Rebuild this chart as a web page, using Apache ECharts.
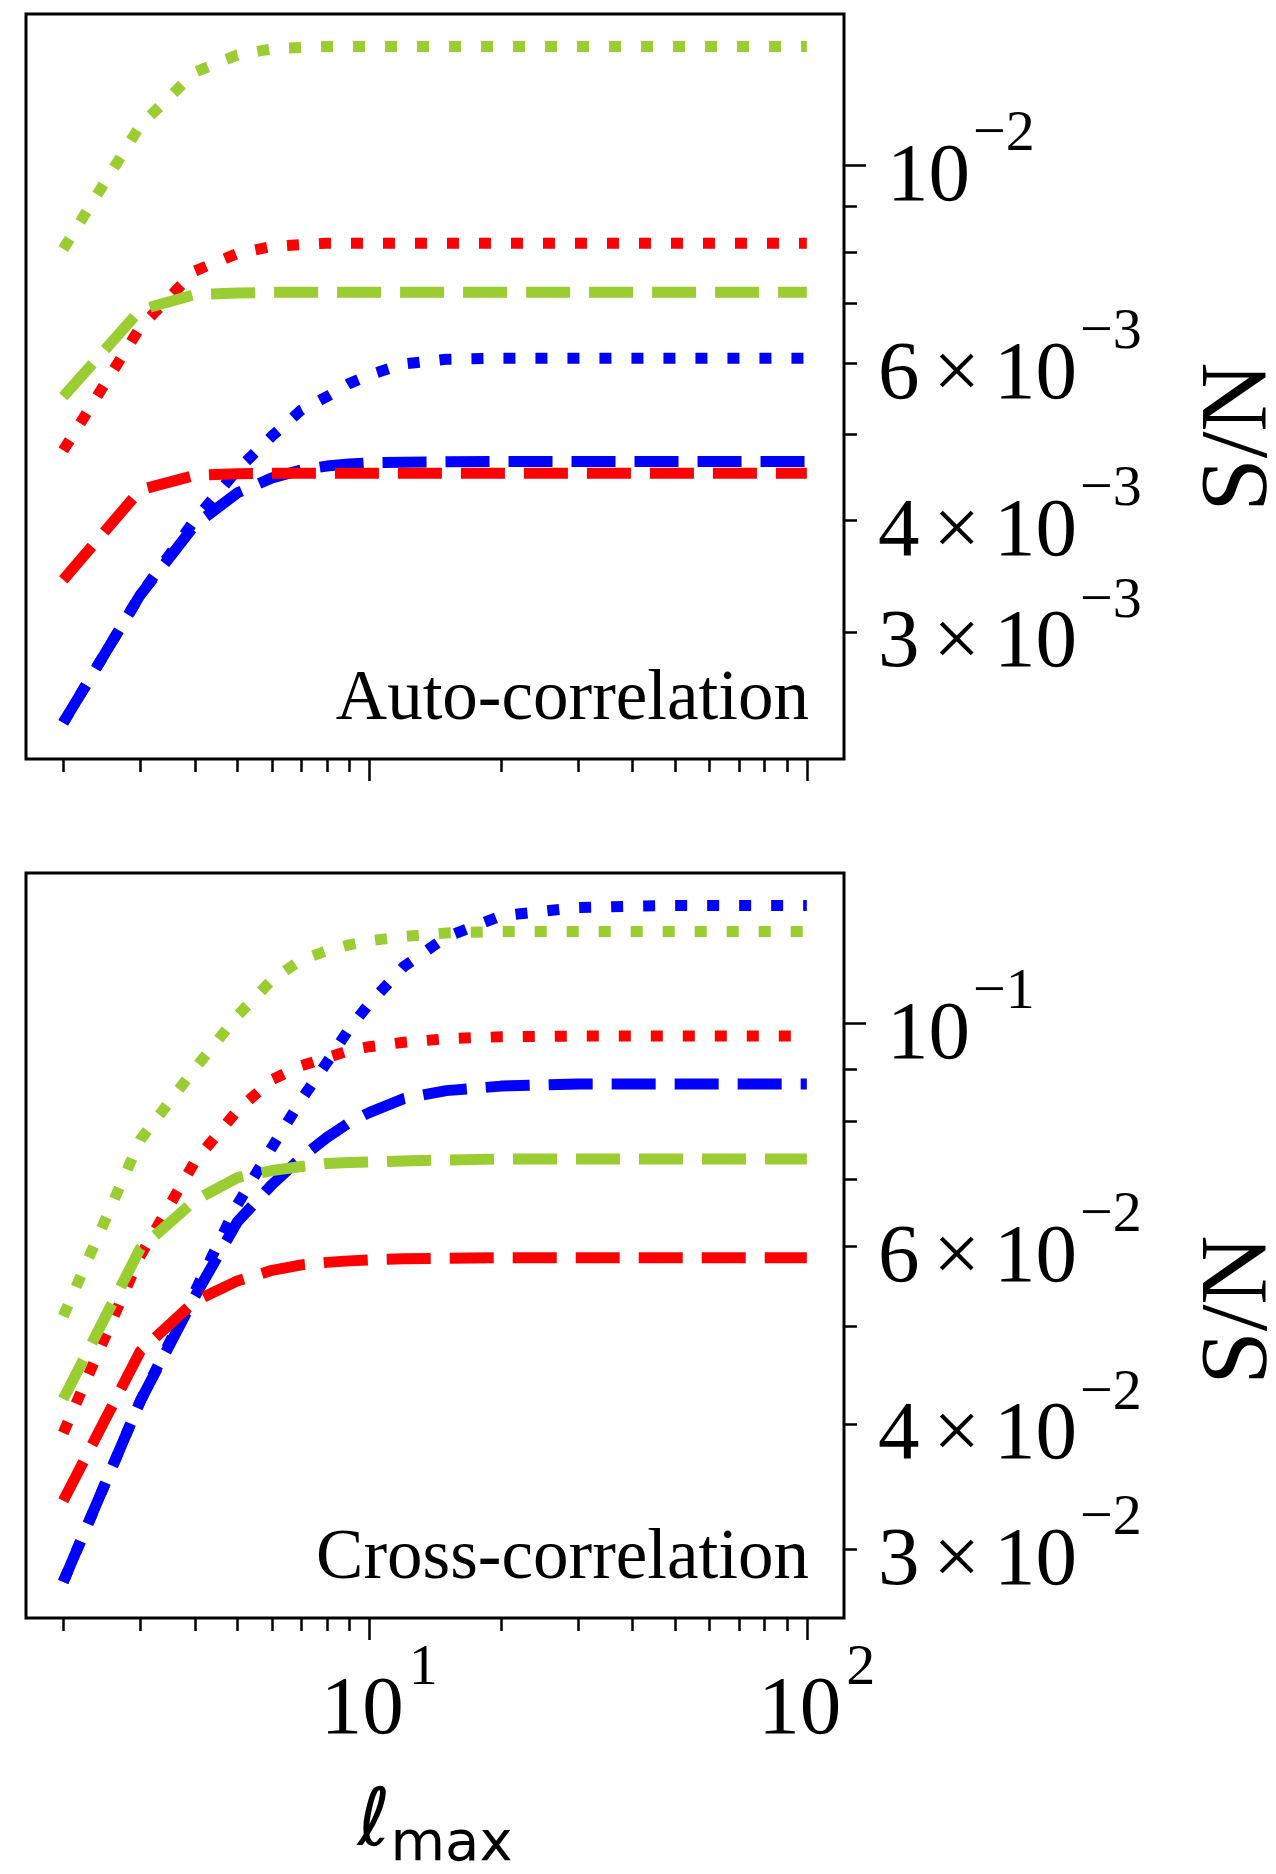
<!DOCTYPE html>
<html>
<head>
<meta charset="utf-8">
<title>S/N vs lmax</title>
<script src="https://cdn.jsdelivr.net/npm/echarts@6/dist/echarts.min.js"></script>
<style>
  html, body { margin: 0; padding: 0; background: #fff; }
  #chart { width: 1276px; height: 1874px; }
</style>
</head>
<body>
<div id="chart"></div>
<script>
// multipole cut, l_max
var ells = [2, 3, 4, 5, 6, 7, 8, 9, 10, 12, 15, 20, 30, 50, 100];

// auto-correlation S/N
var autoBlueDash  = [0.002375, 0.003304, 0.003957, 0.004298, 0.004467, 0.004560, 0.004605, 0.004630, 0.004644, 0.004652, 0.004657, 0.004659, 0.004659, 0.004659, 0.004659];
var autoBlueDot   = [0.002375, 0.003304, 0.004010, 0.004560, 0.004977, 0.005322, 0.005507, 0.005696, 0.005826, 0.005994, 0.006065, 0.006081, 0.006081, 0.006081, 0.006081];
var autoRedDash   = [0.003434, 0.004331, 0.004497, 0.004515, 0.004520, 0.004520, 0.004520, 0.004520, 0.004520, 0.004520, 0.004520, 0.004520, 0.004520, 0.004520, 0.004520];
var autoRedDot    = [0.004795, 0.006589, 0.007618, 0.007970, 0.008114, 0.008155, 0.008182, 0.008182, 0.008182, 0.008182, 0.008182, 0.008182, 0.008182, 0.008182, 0.008182];
var autoGreenDash = [0.005507, 0.006889, 0.007168, 0.007195, 0.007211, 0.007211, 0.007211, 0.007211, 0.007211, 0.007211, 0.007211, 0.007211, 0.007211, 0.007211, 0.007211];
var autoGreenDot  = [0.008061, 0.01109, 0.01272, 0.01330, 0.01351, 0.01356, 0.01359, 0.01359, 0.01359, 0.01359, 0.01359, 0.01359, 0.01359, 0.01359, 0.01359];

// cross-correlation S/N
var crossBlueDash  = [0.02786, 0.04214, 0.05357, 0.06353, 0.06918, 0.07357, 0.07700, 0.07970, 0.08155, 0.08420, 0.08575, 0.08664, 0.08707, 0.08707, 0.08707];
var crossBlueDot   = [0.02786, 0.04214, 0.05418, 0.06609, 0.07536, 0.08400, 0.09141, 0.09879, 0.1046, 0.1139, 0.1219, 0.1279, 0.1304, 0.1310, 0.1310];
var crossRedDash   = [0.03354, 0.04723, 0.05296, 0.05548, 0.05684, 0.05755, 0.05788, 0.05808, 0.05822, 0.05835, 0.05842, 0.05851, 0.05851, 0.05851, 0.05851];
var crossRedDot    = [0.03917, 0.05875, 0.07293, 0.08195, 0.08793, 0.09078, 0.09247, 0.09395, 0.09482, 0.09578, 0.09656, 0.09700, 0.09716, 0.09716, 0.09716];
var crossGreenDash = [0.04233, 0.05977, 0.06669, 0.07028, 0.07142, 0.07207, 0.07257, 0.07274, 0.07282, 0.07300, 0.07316, 0.07333, 0.07333, 0.07333, 0.07333];
var crossGreenDot  = [0.05117, 0.07664, 0.09018, 0.1018, 0.1105, 0.1157, 0.1181, 0.1197, 0.1208, 0.1220, 0.1230, 0.1234, 0.1234, 0.1234, 0.1234];

// ticks
var xMinorTicks = [2, 3, 4, 5, 6, 7, 8, 9, 20, 30, 40, 50, 60, 70, 80, 90];
var xMajorTicks = [10, 100];
var autoMinorTicks = [0.003, 0.004, 0.005, 0.006, 0.007, 0.008, 0.009];
var autoMajorTicks = [0.01];
var autoLabels = [0.004, 0.006, 0.01];
var autoLowLabel = [0.003];
var crossMinorTicks = [0.03, 0.04, 0.05, 0.06, 0.07, 0.08, 0.09];
var crossMajorTicks = [0.1];
var crossLabels = [0.04, 0.06, 0.1];
var crossLowLabel = [0.03];

var SERIF = 'Liberation Serif';
var BLUE = '#0000ff', RED = '#ff0000', GREEN = '#9acd32';
var DASH = [44, 19], DOT = [12, 20];

var X_MIN = 1.644, X_MAX = 121.6;

function sciLabel(v) {
  var e = Math.floor(Math.log10(v) + 1e-9);
  var m = Math.round(v / Math.pow(10, e));
  var sup = e < 0 ? '\u2212' + (-e) : '' + e;
  if (m === 1) return '{p|10}{s|' + sup + '}';
  return '{b|' + m + '\u2006\u00d7\u200610}{s|' + sup + '}';
}

function xLabel(v) {
  var e = Math.round(Math.log10(v));
  return '{b|10}{s|' + e + '}';
}

// compact boxes: base digits sit low, exponent rides near the top
var yRich = {
  b: { fontFamily: SERIF, fontSize: 83, height: 61, lineHeight: 86, verticalAlign: 'bottom', color: '#000' },
  p: { fontFamily: SERIF, fontSize: 83, height: 61, lineHeight: 86, verticalAlign: 'bottom', color: '#000', padding: [0, 0, 0, 9] },
  s: { fontFamily: SERIF, fontSize: 58, height: 25, lineHeight: 25, verticalAlign: 'top', color: '#000', padding: [0, 0, 0, 3] }
};

var xRich = {
  b: { fontFamily: SERIF, fontSize: 83, height: 61, lineHeight: 86, verticalAlign: 'bottom', color: '#000', padding: [0, 0, 0, 20] },
  s: { fontFamily: SERIF, fontSize: 58, height: 25, lineHeight: 25, verticalAlign: 'top', color: '#000', padding: [0, 0, 0, 5] }
};

function xAxisDef(grid, ticks, len, labels) {
  var ax = {
    type: 'log', logBase: 10, gridIndex: grid, position: 'bottom',
    min: X_MIN, max: X_MAX,
    axisLine: { show: false },
    splitLine: { show: false },
    axisTick: { show: true, customValues: ticks, length: len, lineStyle: { color: '#000', width: 2.5 } },
    axisLabel: { show: false }
  };
  if (labels) {
    ax.axisLabel = {
      show: true, customValues: labels, margin: 38, hideOverlap: false,
      showMinLabel: true, showMaxLabel: true,
      formatter: xLabel, rich: xRich
    };
  }
  return ax;
}

function yAxisDef(grid, ymin, ymax, ticks, len, labels) {
  var ax = {
    type: 'log', logBase: 10, gridIndex: grid, position: 'right',
    min: ymin, max: ymax,
    axisLine: { show: false },
    splitLine: { show: false },
    axisTick: { show: true, customValues: ticks, length: len, lineStyle: { color: '#000', width: 2.5 } },
    axisLabel: { show: false }
  };
  if (labels) {
    ax.axisLabel = {
      show: true, customValues: labels, margin: 34, align: 'left', hideOverlap: false,
      showMinLabel: true, showMaxLabel: true,
      formatter: sciLabel, rich: yRich
    };
  }
  return ax;
}

function line(values, color, dash, idx) {
  return {
    type: 'line',
    xAxisIndex: idx, yAxisIndex: idx,
    data: ells.map(function (l, i) { return [l, values[i]]; }),
    symbol: 'none', showSymbol: false, silent: true,
    lineStyle: { color: color, width: 11, type: dash, cap: 'butt' }
  };
}

var xBottom = xAxisDef(1, xMajorTicks, 22, xMajorTicks);
xBottom.name = '{l|\u2113}{m|max}';
xBottom.nameLocation = 'middle';
xBottom.nameGap = 157;
xBottom.nameTextStyle = {
  rich: {
    l: { fontFamily: 'DejaVu Sans', fontStyle: 'italic', fontSize: 80, lineHeight: 98, color: '#000' },
    m: { fontFamily: 'DejaVu Sans', fontSize: 56, verticalAlign: 'bottom', color: '#000' }
  }
};

var option = {
  animation: false,
  backgroundColor: '#fff',
  grid: [
    { left: 26, top: 14, width: 818, height: 745, show: true, borderColor: '#000', borderWidth: 3, backgroundColor: '#fff' },
    { left: 26, top: 873, width: 818, height: 746, show: true, borderColor: '#000', borderWidth: 3, backgroundColor: '#fff' }
  ],
  xAxis: [
    xAxisDef(0, xMinorTicks, 13),
    xAxisDef(0, xMajorTicks, 22),
    xAxisDef(1, xMinorTicks, 13),
    xBottom
  ],
  yAxis: [
    yAxisDef(0, 0.002163, 0.01478, autoMinorTicks, 13, autoLabels),
    yAxisDef(0, 0.002163, 0.01478, autoMajorTicks, 22, autoLowLabel),
    yAxisDef(1, 0.02565, 0.1411, crossMinorTicks, 13, crossLabels),
    yAxisDef(1, 0.02565, 0.1411, crossMajorTicks, 22, crossLowLabel)
  ],
  series: [
    line(autoBlueDash, BLUE, DASH, 0),
    line(autoBlueDot, BLUE, DOT, 0),
    line(autoRedDash, RED, DASH, 0),
    line(autoRedDot, RED, DOT, 0),
    line(autoGreenDash, GREEN, DASH, 0),
    line(autoGreenDot, GREEN, DOT, 0),
    line(crossBlueDash, BLUE, DASH, 2),
    line(crossBlueDot, BLUE, DOT, 2),
    line(crossRedDash, RED, DASH, 2),
    line(crossRedDot, RED, DOT, 2),
    line(crossGreenDash, GREEN, DASH, 2),
    line(crossGreenDot, GREEN, DOT, 2)
  ],
  graphic: [
    { type: 'text', x: 809, y: 700, style: { text: 'Auto-correlation', fontFamily: SERIF, fontSize: 71, fill: '#000', align: 'right', verticalAlign: 'middle' } },
    { type: 'text', x: 809, y: 1559, style: { text: 'Cross-correlation', fontFamily: SERIF, fontSize: 71, fill: '#000', align: 'right', verticalAlign: 'middle' } },
    { type: 'text', x: 1241, y: 437, rotation: Math.PI / 2, style: { text: 'S/N', fontFamily: SERIF, fontSize: 96, fill: '#000', align: 'center', verticalAlign: 'middle' } },
    { type: 'text', x: 1241, y: 1310, rotation: Math.PI / 2, style: { text: 'S/N', fontFamily: SERIF, fontSize: 96, fill: '#000', align: 'center', verticalAlign: 'middle' } }
  ]
};

var myChart = echarts.init(document.getElementById('chart'));
myChart.setOption(option);
</script>
</body>
</html>
